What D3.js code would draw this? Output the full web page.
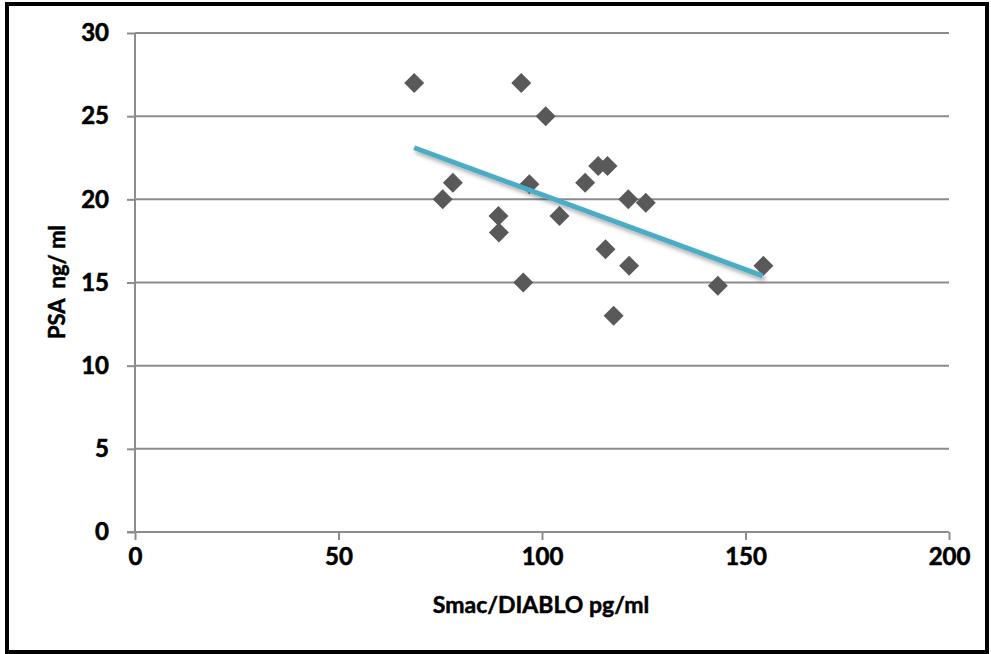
<!DOCTYPE html>
<html>
<head>
<meta charset="utf-8">
<script src="https://cdn.jsdelivr.net/npm/d3@7"></script>
<style>
  body { margin: 0; background: #fff; }
  text { font-family: Lato, "Open Sans", sans-serif; font-weight: bold; fill: #000; }
</style>
</head>
<body>
<div id="my_dataviz"></div>
<script>
// data
var smac = [68.6, 94.9, 100.9, 78.1, 75.6, 96.9, 89.3, 89.4, 95.4, 104.3,
            110.6, 113.8, 116.1, 121.2, 125.5, 115.6, 121.4, 117.6, 143.2, 154.4];
var psa  = [27.0, 27.0, 25.0, 21.0, 20.0, 20.9, 19.0, 18.0, 15.0, 19.0,
            21.0, 22.0, 22.0, 20.0, 19.8, 17.0, 16.0, 13.0, 14.8, 16.0];
// trend line as drawn in the figure (two end points)
var trendX = [68.6, 154.2];
var trendY = [23.1, 15.4];
var xTicks = [0, 50, 100, 150, 200];
var yTicks = [0, 5, 10, 15, 20, 25, 30];

// set the dimensions and margins of the graph
var W = 991, H = 654;
var margin = {top: 33, right: 42, bottom: 122, left: 135},
    width = W - margin.left - margin.right,
    height = H - margin.top - margin.bottom;

var root = d3.select("#my_dataviz")
  .append("svg")
    .attr("width", W)
    .attr("height", H);

// drop shadow for the trend line
var defs = root.append("defs");
var f = defs.append("filter").attr("id", "shadow")
  .attr("x", "-10%").attr("y", "-50%").attr("width", "120%").attr("height", "200%");
f.append("feDropShadow")
  .attr("dx", 2).attr("dy", 3).attr("stdDeviation", 2)
  .attr("flood-color", "#000").attr("flood-opacity", 0.35);

// outer frame
root.append("rect")
  .attr("x", 7).attr("y", 4)
  .attr("width", W - 11).attr("height", H - 6)
  .attr("fill", "none")
  .attr("stroke", "#000")
  .attr("stroke-width", 4);

var svg = root.append("g")
  .attr("transform", "translate(" + margin.left + "," + margin.top + ")");

var x = d3.scaleLinear().domain([0, 200]).range([0, width]);
var y = d3.scaleLinear().domain([0, 30]).range([height, 0]);

// horizontal gridlines
svg.append("g")
  .selectAll("line")
  .data(yTicks.filter(function(d) { return d > 0; }))
  .enter()
  .append("line")
    .attr("x1", 0).attr("x2", width)
    .attr("y1", function(d) { return y(d); })
    .attr("y2", function(d) { return y(d); })
    .attr("stroke", "#8c8c8c")
    .attr("stroke-width", 2);

// Y axis
var yAxis = svg.append("g")
  .call(d3.axisLeft(y).tickValues(yTicks).tickSize(8).tickPadding(18));
// X axis
var xAxis = svg.append("g")
  .attr("transform", "translate(0," + height + ")")
  .call(d3.axisBottom(x).tickValues(xTicks).tickSize(8).tickPadding(8));

[yAxis, xAxis].forEach(function(a) {
  a.selectAll(".domain").attr("stroke", "#8c8c8c").attr("stroke-width", 2);
  a.selectAll(".tick line").attr("stroke", "#8c8c8c").attr("stroke-width", 2);
  a.selectAll(".tick text")
    .style("font-family", "Lato, 'Open Sans', sans-serif")
    .style("font-weight", "bold")
    .style("font-size", "24px")
    .attr("fill", "#000")
    .attr("stroke", "#000")
    .attr("stroke-width", 0.6);
});
// remove outer tick ends of domain paths
yAxis.select(".domain").attr("d", "M0," + height + "V0");
xAxis.select(".domain").attr("d", "M-8,0H" + width);

// points
var pts = smac.map(function(v, i) { return {x: v, y: psa[i]}; });
var diamond = d3.symbol().type(d3.symbolSquare).size(200);
svg.append("g")
  .selectAll("path")
  .data(pts)
  .enter()
  .append("path")
    .attr("d", diamond)
    .attr("transform", function(d) { return "translate(" + x(d.x) + "," + y(d.y) + ") rotate(45)"; })
    .attr("fill", "#595959");

// trend line
var line = d3.line()
  .x(function(d) { return x(d[0]); })
  .y(function(d) { return y(d[1]); });
svg.append("path")
  .datum(trendX.map(function(v, i) { return [v, trendY[i]]; }))
  .attr("d", line)
  .attr("fill", "none")
  .attr("stroke", "#4bacc6")
  .attr("stroke-width", 5)
  .attr("filter", "url(#shadow)");

// axis titles
root.append("text")
  .attr("x", 541).attr("y", 613)
  .attr("text-anchor", "middle")
  .attr("stroke", "#000").attr("stroke-width", 0.5)
  .style("font-size", "23px")
  .text("Smac/DIABLO pg/ml");

root.append("text")
  .attr("transform", "translate(65,282) rotate(-90)")
  .attr("text-anchor", "middle")
  .attr("stroke", "#000").attr("stroke-width", 0.5)
  .style("font-size", "22px")
  .style("white-space", "pre")
  .attr("xml:space", "preserve")
  .text("PSA  ng/ ml");
</script>
</body>
</html>
